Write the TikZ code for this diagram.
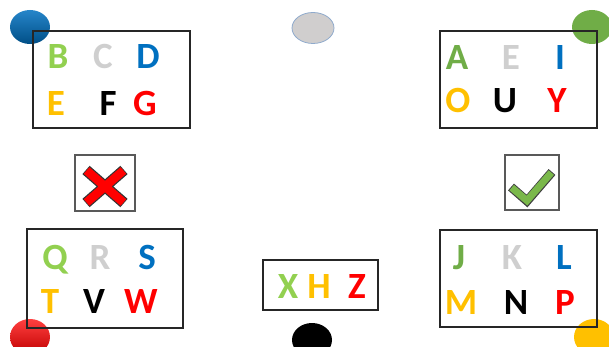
\documentclass[tikz,border=0pt]{standalone}
\usepackage{fontspec}
\newfontfamily\letterfont{Carlito}
\usetikzlibrary{shapes.geometric}
\definecolor{lgreen}{HTML}{92D050}
\definecolor{dgreen}{HTML}{70AD47}
\definecolor{lgray}{HTML}{CFCFCF}
\definecolor{oblue}{HTML}{0070C0}
\definecolor{gold}{HTML}{FFC000}
\definecolor{ored}{HTML}{FF0000}
\definecolor{dotgray}{HTML}{D0CECE}
\definecolor{dotedge}{HTML}{8FAACC}

\begin{document}
\begin{tikzpicture}[x=1pt, y=-1pt,
  letter/.style={font=\letterfont\bfseries\fontsize{37}{42}\selectfont,
                 anchor=base, inner sep=0pt},
  box/.style={draw=black!85, line width=1.2pt, inner sep=0pt},
  iconbox/.style={draw=black!65, line width=1.2pt, inner sep=0pt,
                  minimum width=58pt, minimum height=55pt},
  dot/.style={ellipse, inner sep=0pt, minimum width=40pt, minimum height=34pt},
]
\clip (0,0) rectangle (609,347);
% corner dots (below the boxes)
\node[dot, top color=oblue!85, bottom color=oblue!70!black] (dotblue) at (30,27) {};
\node[dot, fill=dotgray, draw=dotedge, thick, minimum width=42pt, minimum height=31pt] (dotgray) at (313,28) {};
\node[dot, fill=dgreen] (dotgreen) at (592,27) {};
\node[dot, top color=ored!75, bottom color=ored!75!black, minimum height=36pt] (dotred) at (30,337) {};
\node[dot, fill=black] (dotblack) at (312,340) {};
\node[dot, fill=gold, minimum height=36pt] (dotgold) at (594,337) {};

% letter boxes
\node[box, minimum width=157pt, minimum height=97pt] (boxtl) at (111.5,79.5) {};
\node[box, minimum width=157pt, minimum height=97pt] (boxtr) at (518.5,79.5) {};
\node[box, minimum width=156pt, minimum height=99pt] (boxbl) at (105,278.5) {};
\node[box, minimum width=157pt, minimum height=97pt] (boxbr) at (518.5,278.5) {};
\node[box, minimum width=115pt, minimum height=50pt] (boxmid) at (320.5,285) {};

% top left
\node[letter, text=lgreen] (lB) at (58,69) {B};
\node[letter, text=lgray] (lC) at (103,69) {C};
\node[letter, text=oblue] (lD) at (148,69) {D};
\node[letter, text=gold] (lE) at (56,116) {E};
\node[letter, text=black] (lF) at (108,116) {F};
\node[letter, text=ored] (lG) at (145,116) {G};
% top right
\node[letter, text=dgreen] (lA) at (457,70) {A};
\node[letter, text=lgray] (lE2) at (511,70) {E};
\node[letter, text=oblue] (lI) at (560,70) {I};
\node[letter, text=gold] (lO) at (458,113) {O};
\node[letter, text=black] (lU) at (505,113) {U};
\node[letter, text=ored] (lY) at (557,113) {Y};
% bottom left
\node[letter, text=lgreen] (lQ) at (55,269) {Q};
\node[letter, text=lgray] (lR) at (100,269) {R};
\node[letter, text=oblue] (lS) at (147,269) {S};
\node[letter, text=gold] (lT) at (50,313) {T};
\node[letter, text=black] (lV) at (94,313) {V};
\node[letter, text=ored] (lW) at (141,313) {W};
% bottom right
\node[letter, text=dgreen] (lJ) at (459,269) {J};
\node[letter, text=lgray] (lK) at (512,269) {K};
\node[letter, text=oblue] (lL) at (564,269) {L};
\node[letter, text=gold] (lM) at (461,314) {M};
\node[letter, text=black] (lN) at (516,314) {N};
\node[letter, text=ored] (lP) at (565,314) {P};
% middle
\node[letter, text=lgreen] (lX) at (288,298) {X};
\node[letter, text=gold] (lH) at (319,298) {H};
\node[letter, text=ored] (lZ) at (357,298) {Z};

% cross and tick
\node[iconbox, minimum width=60pt, minimum height=56pt] (crossbox) at (105,183) {};
\node[iconbox, minimum width=54pt, minimum height=55pt] (tickbox) at (532,182.5) {};
\draw[line width=11pt, black!80] (86,170) -- (124,203) (124,170) -- (86,203);
\draw[line width=8.6pt, ored] (86.6,170.5) -- (123.4,202.5) (123.4,170.5) -- (86.6,202.5);
\draw[line width=9pt, black!75, line join=miter] (511,187) -- (527,201) -- (552,172);
\draw[line width=7pt, dgreen!70!lgreen, line join=miter] (511.7,187.6) -- (527,200.6) -- (551.3,172.6);
\end{tikzpicture}
\end{document}
